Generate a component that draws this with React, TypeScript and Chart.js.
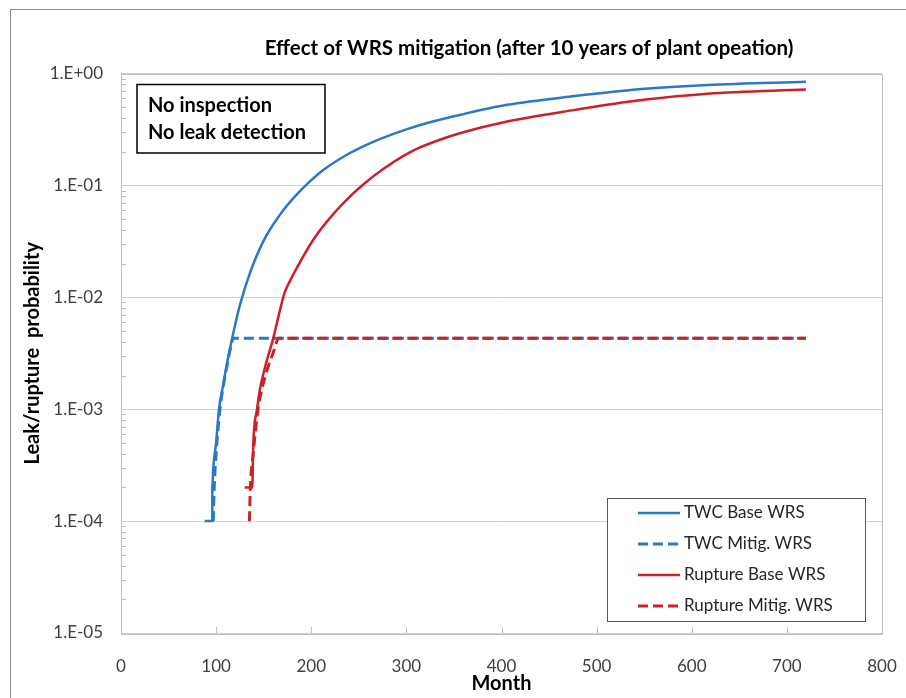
import React, { useEffect, useRef } from 'react';
import { Chart, registerables } from 'chart.js';

Chart.register(...registerables);

const TITLE = 'Effect of WRS mitigation (after 10 years of plant opeation)';
const X_TITLE = 'Month';
const Y_TITLE = 'Leak/rupture  probability';
const NOTE_LINES = ['No inspection', 'No leak detection'];

const X_TICKS = [0, 100, 200, 300, 400, 500, 600, 700, 800];
const Y_DECADES = [1e-5, 1e-4, 1e-3, 1e-2, 1e-1, 1];
const Y_TICK_LABELS = ['1.E-05', '1.E-04', '1.E-03', '1.E-02', '1.E-01', '1.E+00'];

const SERIES_LABELS = ['TWC Base WRS', 'TWC Mitig. WRS', 'Rupture Base WRS', 'Rupture Mitig. WRS'];

const twcBaseMonths = [88, 96, 96, 97, 100, 103, 107, 111, 116, 120, 125, 136, 150, 167, 181, 195, 213, 237, 258, 272, 300, 322, 357, 406, 477, 547, 617, 720];
const twcBaseProb = [1e-4, 1e-4, 2e-4, 3e-4, 5e-4, 1e-3, 1.58e-3, 2.45e-3, 3.98e-3, 5.69e-3, 8.51e-3, 1.687e-2, 3.21e-2, 5.45e-2, 7.65e-2, 0.1016, 0.138, 0.187, 0.2303, 0.2595, 0.317, 0.3616, 0.4281, 0.5248, 0.6282, 0.7263, 0.7899, 0.8419];

const twcMitigMonths = [97, 98, 100, 104, 108, 112, 116, 118, 720];
const twcMitigProb = [1e-4, 2e-4, 4e-4, 1e-3, 1.7e-3, 2.6e-3, 3.8e-3, 4.3e-3, 4.3e-3];

const ruptureBaseMonths = [130, 138, 139, 143, 146, 151, 160, 167, 172, 175, 185, 202, 216, 234, 254, 276, 297, 311, 336, 357, 406, 477, 547, 617, 720];
const ruptureBaseProb = [2e-4, 2e-4, 4.7e-4, 1e-3, 1.5e-3, 2.3e-3, 4.3e-3, 7.6e-3, 1.1e-2, 1.26e-2, 1.84e-2, 3.25e-2, 4.7e-2, 6.98e-2, 0.1008, 0.1408, 0.1837, 0.2124, 0.2569, 0.294, 0.3726, 0.4732, 0.5808, 0.6607, 0.7194];

const ruptureMitigMonths = [135, 136, 139, 141, 144, 148, 154, 160, 166, 720];
const ruptureMitigProb = [1e-4, 2e-4, 4e-4, 6e-4, 1e-3, 1.5e-3, 2.3e-3, 3.2e-3, 4.3e-3, 4.3e-3];

const BLUE = '#2b78c6';
const RED = '#cc2127';
const FONT = 'Lato, "Open Sans", sans-serif';

const toPoints = (xs: number[], ys: number[]) => xs.map((x, i) => ({ x, y: ys[i] }));

const decorPlugin = {
  id: 'decor',
  beforeDraw(chart: any) {
    const { ctx, width, height } = chart;
    ctx.save();
    ctx.fillStyle = '#ffffff';
    ctx.fillRect(0, 0, width, height);
    ctx.strokeStyle = '#8c8c8c';
    ctx.lineWidth = 1;
    ctx.strokeRect(10.5, 9.5, width + 20, height + 20);
    ctx.restore();
  },
  afterDatasetsDraw(chart: any) {
    const { ctx, chartArea } = chart;
    const xs = chart.scales.x;
    const ys = chart.scales.y;
    ctx.save();
    // plot border
    ctx.strokeStyle = '#bfbfbf';
    ctx.lineWidth = 1;
    ctx.strokeRect(Math.round(chartArea.left) + 0.5, Math.round(chartArea.top) + 0.5,
      Math.round(chartArea.right - chartArea.left), Math.round(chartArea.bottom - chartArea.top));
    // minor y ticks
    ctx.beginPath();
    for (let d = 0; d < Y_DECADES.length - 1; d++) {
      for (let k = 2; k <= 9; k++) {
        const py = Math.round(ys.getPixelForValue(Y_DECADES[d] * k)) + 0.5;
        ctx.moveTo(chartArea.left, py);
        ctx.lineTo(chartArea.left + 5, py);
      }
    }
    // x ticks inside
    X_TICKS.forEach((t) => {
      const px = Math.round(xs.getPixelForValue(t)) + 0.5;
      ctx.moveTo(px, chartArea.bottom);
      ctx.lineTo(px, chartArea.bottom - 6);
    });
    ctx.stroke();

    // title
    ctx.fillStyle = '#000000';
    ctx.font = `bold 20.5px ${FONT}`;
    ctx.textAlign = 'center';
    ctx.textBaseline = 'middle';
    ctx.fillText(TITLE, 529, 48);

    // note box
    ctx.fillStyle = '#ffffff';
    ctx.fillRect(137, 84.5, 188, 68.5);
    ctx.strokeStyle = '#000000';
    ctx.lineWidth = 1.5;
    ctx.strokeRect(137, 84.5, 188, 68.5);
    ctx.fillStyle = '#000000';
    ctx.font = `bold 20px ${FONT}`;
    ctx.textAlign = 'left';
    ctx.textBaseline = 'alphabetic';
    ctx.fillText(NOTE_LINES[0], 148, 112);
    ctx.fillText(NOTE_LINES[1], 148, 139);

    // legend
    const lx = 607.5, ly = 498.5, lw = 258, lh = 123;
    ctx.fillStyle = '#ffffff';
    ctx.fillRect(lx, ly, lw, lh);
    ctx.strokeStyle = '#595959';
    ctx.lineWidth = 1;
    ctx.strokeRect(lx, ly, lw, lh);
    ctx.font = `17px ${FONT}`;
    ctx.textBaseline = 'middle';
    chart.data.datasets.forEach((ds: any, i: number) => {
      const y = 513 + i * 31;
      ctx.beginPath();
      ctx.strokeStyle = ds.borderColor;
      ctx.lineWidth = ds.borderWidth;
      ctx.setLineDash(ds.borderDash || []);
      ctx.moveTo(638, y);
      ctx.lineTo(680, y);
      ctx.stroke();
      ctx.setLineDash([]);
      ctx.fillStyle = '#262626';
      ctx.fillText(ds.label, 684, y);
    });
    ctx.restore();
  },
};

export default function App() {
  const ref = useRef<HTMLCanvasElement | null>(null);
  useEffect(() => {
    document.body.style.margin = '0';
    const canvas = ref.current!;
    const chart = new Chart(canvas, {
      type: 'line',
      data: {
        datasets: [
          { label: SERIES_LABELS[0], data: toPoints(twcBaseMonths, twcBaseProb), borderColor: BLUE, borderWidth: 2.5, order: 3 },
          { label: SERIES_LABELS[1], data: toPoints(twcMitigMonths, twcMitigProb), borderColor: BLUE, borderWidth: 3, borderDash: [10, 5], order: 2 },
          { label: SERIES_LABELS[2], data: toPoints(ruptureBaseMonths, ruptureBaseProb), borderColor: RED, borderWidth: 2.5, order: 1 },
          { label: SERIES_LABELS[3], data: toPoints(ruptureMitigMonths, ruptureMitigProb), borderColor: RED, borderWidth: 3, borderDash: [10, 5], order: 0 },
        ] as any,
      },
      options: {
        animation: false,
        responsive: false,
        devicePixelRatio: 1,
        events: [],
        elements: {
          point: { radius: 0 },
          line: { cubicInterpolationMode: 'monotone', fill: false },
        },
        layout: { padding: { top: 73.5, right: 24, left: 0, bottom: 0 } },
        plugins: {
          legend: { display: false },
          title: { display: false },
          tooltip: { enabled: false },
        },
        scales: {
          x: {
            type: 'linear',
            min: 0,
            max: 800,
            grid: { display: false },
            border: { display: false },
            afterBuildTicks: (s: any) => { s.ticks = X_TICKS.map((v) => ({ value: v })); },
            ticks: {
              padding: 15,
              color: '#404040',
              font: { family: FONT, size: 17 },
              maxRotation: 0,
              autoSkip: false,
              callback: (v: any) => String(v),
            },
            title: {
              display: true,
              text: X_TITLE,
              color: '#000000',
              font: { family: FONT, size: 20, weight: 'bold' },
              padding: { top: 0, bottom: 2 },
            },
            afterFit: (s: any) => { s.height = 65; s.paddingLeft = 0; s.paddingRight = 0; },
          },
          y: {
            type: 'logarithmic',
            min: 1e-5,
            max: 1,
            grid: { color: '#d0d0d0', drawTicks: false, lineWidth: 1 },
            border: { display: false },
            afterBuildTicks: (s: any) => { s.ticks = Y_DECADES.map((v) => ({ value: v, major: true })); },
            ticks: {
              padding: 18,
              color: '#404040',
              font: { family: FONT, size: 17 },
              autoSkip: false,
              callback: (_v: any, i: number) => Y_TICK_LABELS[i],
            },
            title: {
              display: true,
              text: Y_TITLE,
              color: '#000000',
              font: { family: FONT, size: 20, weight: 'bold' },
              padding: { top: 21, bottom: 0 },
            },
            afterFit: (s: any) => { s.width = 121; s.paddingTop = 0; s.paddingBottom = 0; },
          },
        },
      } as any,
      plugins: [decorPlugin],
    });
    return () => chart.destroy();
  }, []);
  return (
    <div style={{ width: 906, height: 698, position: 'relative' }}>
      <canvas ref={ref} width={906} height={698} style={{ display: 'block' }} />
    </div>
  );
}
